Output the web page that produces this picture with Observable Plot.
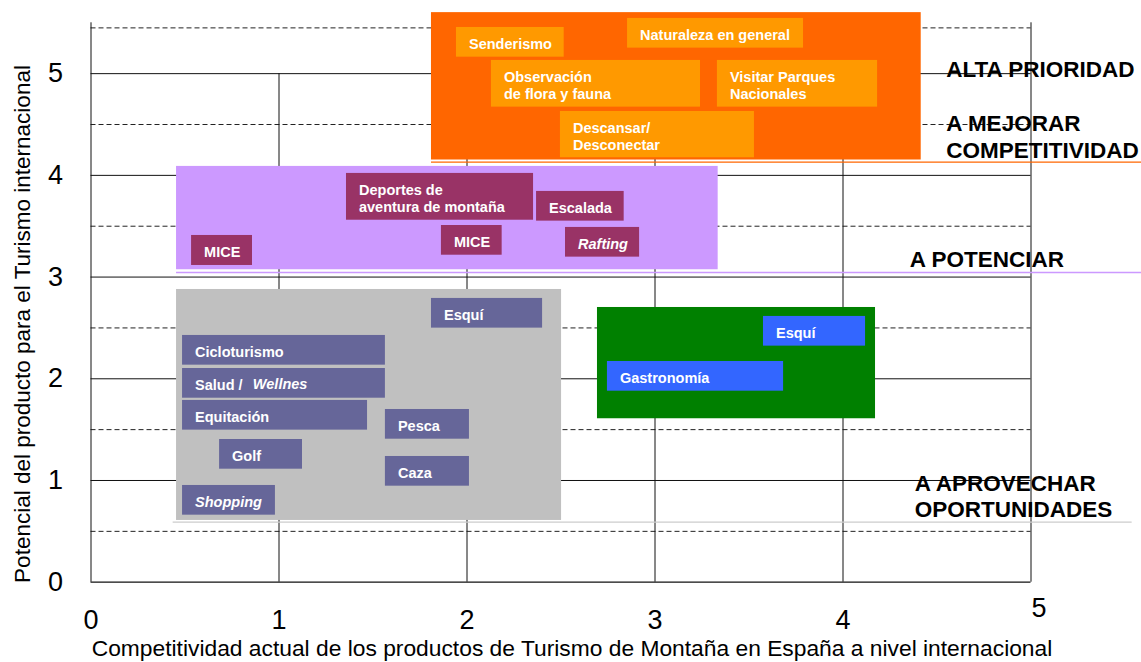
<!DOCTYPE html>
<html><head><meta charset="utf-8">
<script src="https://cdn.jsdelivr.net/npm/d3@7"></script>
<script src="https://cdn.jsdelivr.net/npm/@observablehq/plot@0.6"></script>
<style>
html,body{margin:0;padding:0;background:#fff;}
</style>
</head><body><div id="chart"></div>
<script>
// ---- Axis values ----
const xTicks = [0, 1, 2, 3, 4, 5];
const yTicks = [0, 1, 2, 3, 4, 5];
const solidY = [1, 2, 3, 4, 5];
const dashedY = [0.5, 1.5, 2.5, 3.5, 4.5, 5.45];
const gridX = [1, 2, 3, 4];
const xTitle = "Competitividad actual de los productos de Turismo de Montaña en España a nivel internacional";
const yTitle = "Potencial del producto para el Turismo internacional";

// ---- Regions (groups) ----
const regionNames = ["alta", "potenciar", "aprovechar", "verde"];
const regionX1 = [1.811, 0.455, 0.455, 2.694];
const regionX2 = [4.416, 3.336, 2.503, 4.173];
const regionY1 = [4.151, 3.072, 0.607, 1.607];
const regionY2 = [5.600, 4.088, 2.878, 2.701];

// separator lines for the quadrants
const sepGroup = [0, 1, 2];
const sepY = [4.130, 3.045, 0.590];
const sepX1 = [1.811, 0.455, 0.437];
const sepX2 = [5.588, 5.588, 5.538];

// ---- Product boxes ----
const labelText = ["Senderismo", "Naturaleza en general", "Observación\nde flora y fauna", "Visitar Parques\nNacionales", "Descansar/\nDesconectar",
  "Deportes de\naventura de montaña", "Escalada", "MICE", "Rafting", "MICE",
  "Esquí", "Cicloturismo", "Salud /", "Equitación", "Golf", "Shopping", "Pesca", "Caza",
  "Esquí", "Gastronomía"];
const labelGroup = [0,0,0,0,0, 1,1,1,1,1, 2,2,2,2,2,2,2,2, 3,3];
const labelItalic = [false,false,false,false,false, false,false,false,true,false, false,false,false,false,false,true,false,false, false,false];
const labelX1 = [1.944,2.854,2.130,3.332,2.497, 1.359,2.370,1.864,2.524,0.535, 1.811,0.487,0.487,0.487,0.684,0.487,1.566,1.566, 3.577,2.747];
const labelX2 = [2.517,3.790,3.242,4.184,3.529, 2.354,2.836,2.187,2.918,0.859, 2.402,1.566,1.566,1.471,1.125,0.981,2.013,2.013, 4.120,3.684];
const labelY1 = [5.162,5.251,4.671,4.671,4.173, 3.559,3.550,3.215,3.196,3.114, 2.498,2.134,1.809,1.495,1.111,0.659,1.406,0.944, 2.321,1.878];
const labelY2 = [5.454,5.543,5.130,5.130,4.628, 4.019,3.842,3.507,3.488,3.409, 2.790,2.426,2.101,1.787,1.403,0.951,1.698,1.236, 2.613,2.170];

// italic part of "Salud / Wellnes"
const extraText = ["Wellnes"];
const extraX = [0.861];
const extraBox = [12];

// ---- Quadrant labels ----
const quadText = ["ALTA PRIORIDAD", "A MEJORAR", "COMPETITIVIDAD", "A POTENCIAR", "A APROVECHAR", "OPORTUNIDADES"];
const quadX = [4.549, 4.549, 4.549, 4.355, 4.382, 4.382];
const quadY = [5.034, 4.503, 4.242, 3.173, 0.970, 0.712];

// ---- styles ----
const regionColor = ["#FF6600", "#CC99FF", "#C0C0C0", "#008000"];
const boxColor = ["#FF9900", "#993366", "#666699", "#3366FF"];
const sepColor = ["#FF6600", "#CC99FF", "#CCCCCC"];
const FONT = "'Liberation Sans', Arial, Helvetica, sans-serif";

const regions = regionNames.map((n, i) => ({name: n, x1: regionX1[i], x2: regionX2[i], y1: regionY1[i], y2: regionY2[i], g: i}));
const seps = sepGroup.map((g, i) => ({g, y: sepY[i], x1: sepX1[i], x2: sepX2[i]}));
const labels = labelText.map((t, i) => ({t, g: labelGroup[i], it: labelItalic[i], x1: labelX1[i], x2: labelX2[i], y1: labelY1[i], y2: labelY2[i]}));
const extras = extraText.map((t, i) => ({t, x: extraX[i], y: (labelY1[extraBox[i]] + labelY2[extraBox[i]]) / 2}));
const quads = quadText.map((t, i) => ({t, x: quadX[i], y: quadY[i]}));

const chart = Plot.plot({
  width: 1141,
  height: 662,
  marginLeft: 90.5,
  marginRight: 110.5,
  marginTop: 22.3,
  marginBottom: 80.3,
  x: {domain: [0, 5], axis: null},
  y: {domain: [0, 5.5], axis: null},
  style: {fontFamily: FONT, background: "white", overflow: "visible"},
  marks: [
    Plot.ruleY(dashedY, {x1: 0, x2: 5, stroke: "#222", strokeDasharray: "5,3", strokeWidth: 1}),
    Plot.ruleY(solidY, {x1: 0, x2: 5, stroke: "#111", strokeWidth: 1}),
    Plot.ruleX(gridX, {y1: 0, y2: 5, stroke: "#111", strokeWidth: 1}),
    Plot.ruleX([0, 5], {y1: 0, y2: 5.5, stroke: "#111", strokeWidth: 1}),
    Plot.ruleY([0], {x1: 0, x2: 5, stroke: "#111", strokeWidth: 1.2}),
    Plot.rect(regions, {x1: "x1", x2: "x2", y1: "y1", y2: "y2", fill: d => regionColor[d.g]}),
    Plot.ruleY(seps, {y: "y", x1: "x1", x2: "x2", stroke: d => sepColor[d.g], strokeWidth: 1.3}),
    Plot.rect(labels, {x1: "x1", x2: "x2", y1: "y1", y2: "y2", fill: d => boxColor[d.g]}),
    Plot.text(labels.filter(d => !d.it), {x: "x1", y: d => (d.y1 + d.y2) / 2, text: "t", textAnchor: "start", dx: 12.5, dy: 1.5,
      fill: "white", fontWeight: "bold", fontSize: 14.5, lineHeight: 1.15, fontFamily: FONT}),
    Plot.text(labels.filter(d => d.it), {x: "x1", y: d => (d.y1 + d.y2) / 2, text: "t", textAnchor: "start", dx: 12.5, dy: 1.5,
      fill: "white", fontWeight: "bold", fontStyle: "italic", fontSize: 14.5, lineHeight: 1.15, fontFamily: FONT}),
    Plot.text(extras, {x: "x", y: "y", text: "t", textAnchor: "start", dy: 1.5,
      fill: "white", fontWeight: "bold", fontStyle: "italic", fontSize: 14.5, fontFamily: FONT}),
    Plot.text(quads, {x: "x", y: "y", text: "t", textAnchor: "start", fill: "black", fontWeight: "bold", fontSize: 22.5, fontFamily: FONT}),
    Plot.text(yTicks, {x: () => 0, y: d => d, text: d => String(d), textAnchor: "end", dx: -28, fontSize: 27, fill: "black", fontFamily: FONT}),
    Plot.text(xTicks.filter(d => d < 5), {x: d => d, y: () => 0, text: d => String(d), dy: 38, fontSize: 27, fill: "black", fontFamily: FONT}),
    Plot.text(xTicks.filter(d => d === 5), {x: d => d, y: () => 0, text: d => String(d), dx: 8, dy: 26, fontSize: 27, fill: "black", fontFamily: FONT}),
    Plot.text([xTitle], {frameAnchor: "bottom", text: d => d, textAnchor: "middle", lineAnchor: "middle", dx: 11, dy: 67, fontSize: 22.8, fill: "black", fontFamily: FONT}),
    Plot.text([yTitle], {frameAnchor: "left", text: d => d, textAnchor: "middle", lineAnchor: "middle", rotate: -90, dx: -68.5, dy: 21.5, fontSize: 22.5, fill: "black", fontFamily: FONT})
  ]
});
document.getElementById("chart").appendChild(chart);
</script>
</body></html>
